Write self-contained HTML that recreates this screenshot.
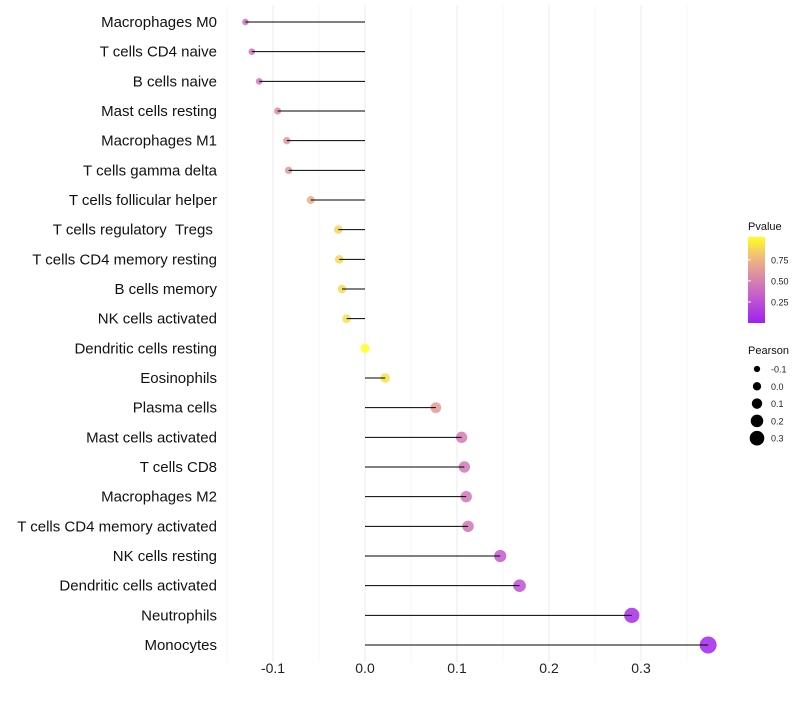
<!DOCTYPE html>
<html><head><meta charset="utf-8"><style>
body{margin:0;background:#fff;font-family:"Liberation Sans",sans-serif}
</style></head><body>
<svg id="c" width="800" height="700" xmlns="http://www.w3.org/2000/svg">
<defs><linearGradient id="g" x1="0" y1="1" x2="0" y2="0">
<stop offset="0" stop-color="#a020f0"/><stop offset="0.35" stop-color="#c864c8"/><stop offset="0.55" stop-color="#dc8ca5"/><stop offset="0.78" stop-color="#f2be78"/><stop offset="1" stop-color="#ffff20"/>
</linearGradient></defs>
</svg>
<script>
const categories=["Macrophages M0","T cells CD4 naive","B cells naive","Mast cells resting","Macrophages M1","T cells gamma delta","T cells follicular helper","T cells regulatory\u00a0\u00a0Tregs\u00a0","T cells CD4 memory resting","B cells memory","NK cells activated","Dendritic cells resting","Eosinophils","Plasma cells","Mast cells activated","T cells CD8","Macrophages M2","T cells CD4 memory activated","NK cells resting","Dendritic cells activated","Neutrophils","Monocytes"];
const pearson=[-0.130,-0.123,-0.115,-0.095,-0.085,-0.083,-0.059,-0.029,-0.028,-0.025,-0.020,0.000,0.022,0.077,0.105,0.108,0.110,0.112,0.147,0.168,0.290,0.373];
const pvalue=[0.40,0.42,0.45,0.55,0.58,0.60,0.70,0.85,0.86,0.87,0.90,1.0,0.90,0.62,0.46,0.45,0.44,0.43,0.30,0.25,0.06,0.02];
const xTicks=[-0.1,0.0,0.1,0.2,0.3];
const xMinor=[-0.15,-0.05,0.05,0.15,0.25,0.35];
const sizeLegend=[-0.1,0.0,0.1,0.2,0.3];
const colorTicks=[0.25,0.50,0.75];
const NS="http://www.w3.org/2000/svg",svg=document.getElementById('c');
const x=v=>365+v*920, y=i=>22+i*(623/21), r=v=>3.2+(v+0.13)*10.5;
function el(t,a,p){const e=document.createElementNS(NS,t);for(const k in a)e.setAttribute(k,a[k]);(p||svg).appendChild(e);return e;}
const stops=[[0,[160,32,240]],[0.35,[200,100,200]],[0.55,[220,140,165]],[0.78,[242,190,120]],[1,[255,255,32]]];
function col(p){for(let i=1;i<stops.length;i++){if(p<=stops[i][0]){const a=stops[i-1],b=stops[i],t=(p-a[0])/(b[0]-a[0]);return 'rgb('+a[1].map((c,k)=>Math.round(c+(b[1][k]-c)*t)).join(',')+')';}}return 'rgb(255,255,32)';}
xMinor.forEach(v=>{const l=el('line',{x1:x(v),x2:x(v),y1:5,y2:662,stroke:'#f2f2f2','stroke-width':0.6});

});
xTicks.forEach(v=>{const l=el('line',{x1:x(v),x2:x(v),y1:5,y2:662,stroke:'#ebebeb','stroke-width':1});


const t=el('text',{x:x(v),y:673,'text-anchor':'middle','font-size':14,fill:'#222'});t.textContent=v.toFixed(1);

});
categories.forEach((c,i)=>{const t=el('text',{x:217,y:y(i)+5,'text-anchor':'end','font-size':15,fill:'#111'});t.textContent=c;


const d=el('circle',{cx:x(pearson[i]),cy:y(i),r:r(pearson[i]),fill:col(pvalue[i]),'fill-opacity':0.85});


const l=el('line',{x1:x(0),x2:x(pearson[i]),y1:y(i),y2:y(i),stroke:'#000','stroke-width':1});

});
const lt=el('text',{x:748,y:230,'font-size':11,fill:'#111'});lt.textContent='Pvalue';


const bar=el('rect',{x:748,y:237,width:17,height:86,fill:'url(#g)'});


colorTicks.forEach(v=>{const yy=323-v*86*0.98;const t=el('text',{x:771,y:yy+3.5,'font-size':9,fill:'#222'});t.textContent=v.toFixed(2);


const tk=el('line',{x1:748,x2:751,y1:yy,y2:yy,stroke:'#fff'});});
const st=el('text',{x:748,y:354,'font-size':11,fill:'#111'});st.textContent='Pearson';


sizeLegend.forEach((v,i)=>{const yy=369+i*17.3;const d=el('circle',{cx:757,cy:yy,r:r(v)-0.4,fill:'#000'});


const t=el('text',{x:771,y:yy+3.5,'font-size':9,fill:'#222'});t.textContent=v.toFixed(1);

});
</script>
</body></html>
